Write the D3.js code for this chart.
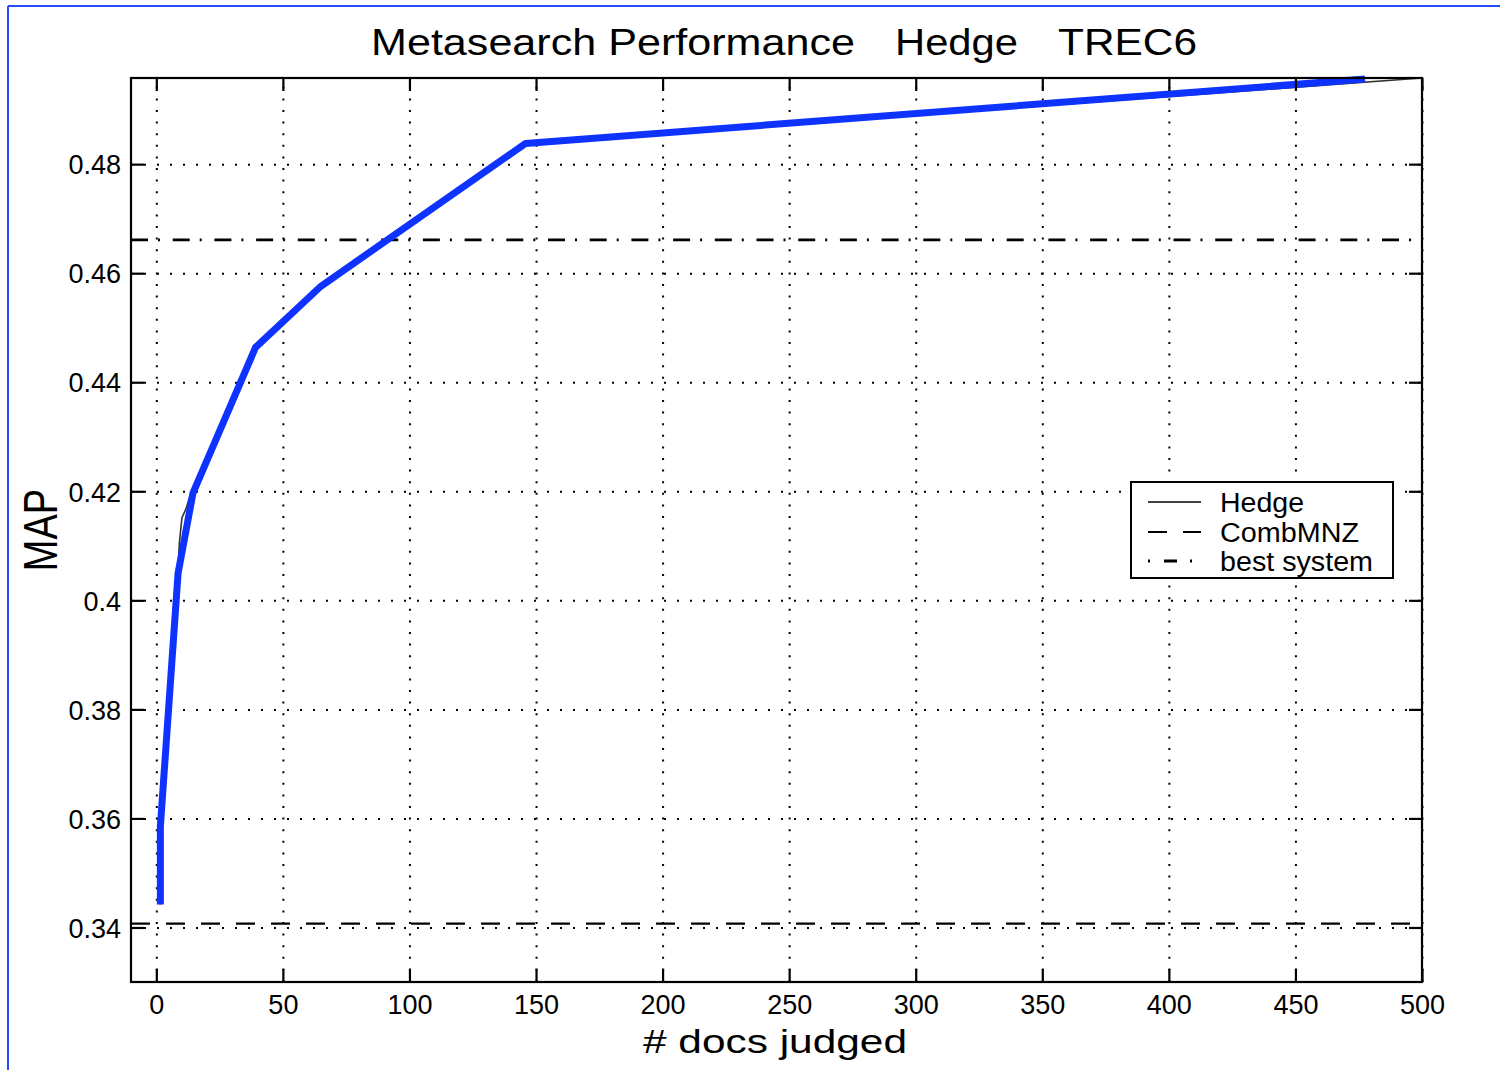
<!DOCTYPE html>
<html>
<head>
<meta charset="utf-8">
<script src="https://cdn.jsdelivr.net/npm/d3@7"></script>
<style>
  html, body { margin: 0; padding: 0; background: #fff; }
  svg { display: block; }
  text { font-family: "Liberation Sans", Arial, sans-serif; fill: #000; }
</style>
</head>
<body>
<svg id="chart" width="1500" height="1070"></svg>
<script>
// ---------- data ----------
const xTickValues = [0, 50, 100, 150, 200, 250, 300, 350, 400, 450, 500];
const yTickValues = [0.34, 0.36, 0.38, 0.40, 0.42, 0.44, 0.46, 0.48];
const yTickLabels = ["0.34", "0.36", "0.38", "0.4", "0.42", "0.44", "0.46", "0.48"];

// Hedge (thin black line)
const hedgeDocs = [1.6, 1.6, 8.6, 9.1, 10.1, 11.8, 13.4, 39.2, 65, 145.9, 500];
const hedgeMAP  = [0.3442, 0.3585, 0.405, 0.4105, 0.4151, 0.4169, 0.4193, 0.4464, 0.4576, 0.4838, 0.4958];

// highlighted Hedge curve (thick blue overlay)
const blueDocs = [1.6, 1.6, 8.6, 14.5, 39.2, 65, 145.9, 477.5];
const blueMAP  = [0.3442, 0.3585, 0.405, 0.4197, 0.4464, 0.4576, 0.4838, 0.4956];

const combMNZ = 0.3407;     // CombMNZ (dashed)
const bestSystem = 0.4661;  // best system (dash-dot)

const legendLabels = ["Hedge", "CombMNZ", "best system"];

// ---------- layout ----------
const svg = d3.select("#chart");
const L = 131, R = 1422, T = 78, B = 982;

const x = d3.scaleLinear().domain([-10, 500]).range([L, R]);
const y = d3.scaleLinear().domain([0.33, 0.4958]).range([B, T]);

// page frame (blue)
svg.append("line").attr("x1", 8).attr("y1", 6).attr("x2", 8).attr("y2", 1070)
  .attr("stroke", "#2a4cff").attr("stroke-width", 2);
svg.append("line").attr("x1", 8).attr("y1", 6).attr("x2", 1500).attr("y2", 6)
  .attr("stroke", "#2a4cff").attr("stroke-width", 2);

// ---------- grid ----------
const gridX = svg.append("g").attr("transform", `translate(0,${B})`)
  .call(d3.axisBottom(x).tickValues(xTickValues).tickSize(-(B - T)).tickFormat(""));
gridX.select(".domain").remove();
gridX.selectAll("line").attr("stroke", "#000").attr("stroke-width", 2)
  .attr("stroke-dasharray", "2,9.6");

const gridY = svg.append("g").attr("transform", `translate(${L},0)`)
  .call(d3.axisLeft(y).tickValues(yTickValues).tickSize(-(R - L)).tickFormat(""));
gridY.select(".domain").remove();
gridY.selectAll("line").attr("stroke", "#000").attr("stroke-width", 2)
  .attr("stroke-dasharray", "2,11");

// ---------- reference lines ----------
svg.append("line").attr("x1", L).attr("x2", R)
  .attr("y1", y(combMNZ)).attr("y2", y(combMNZ))
  .attr("stroke", "#000").attr("stroke-width", 2.2).attr("stroke-dasharray", "19,16");

svg.append("line").attr("x1", L).attr("x2", R)
  .attr("y1", y(bestSystem)).attr("y2", y(bestSystem))
  .attr("stroke", "#000").attr("stroke-width", 2.8).attr("stroke-dasharray", "17,10,2,12.7");

// ---------- curves ----------
const lineGen = d3.line().x(d => x(d[0])).y(d => y(d[1]));

svg.append("path")
  .datum(hedgeDocs.map((d, i) => [d, hedgeMAP[i]]))
  .attr("d", lineGen)
  .attr("fill", "none").attr("stroke", "#333").attr("stroke-width", 1.6);

svg.append("path")
  .datum(blueDocs.map((d, i) => [d, blueMAP[i]]))
  .attr("d", lineGen)
  .attr("fill", "none").attr("stroke", "#0f33ff").attr("stroke-width", 7)
  .attr("stroke-linejoin", "round").attr("stroke-linecap", "butt");

// ---------- axes (inward ticks) ----------
const axB = svg.append("g").attr("transform", `translate(0,${B})`)
  .call(d3.axisBottom(x).tickValues(xTickValues).tickSizeInner(-13).tickSizeOuter(0).tickPadding(14)
    .tickFormat(d3.format("d")));
const axT = svg.append("g").attr("transform", `translate(0,${T})`)
  .call(d3.axisTop(x).tickValues(xTickValues).tickSizeInner(-13).tickSizeOuter(0).tickFormat(""));
const axL = svg.append("g").attr("transform", `translate(${L},0)`)
  .call(d3.axisLeft(y).tickValues(yTickValues).tickSizeInner(-13).tickSizeOuter(0).tickPadding(10)
    .tickFormat((d, i) => yTickLabels[i]));
const axR = svg.append("g").attr("transform", `translate(${R},0)`)
  .call(d3.axisRight(y).tickValues(yTickValues).tickSizeInner(-13).tickSizeOuter(0).tickFormat(""));

[axB, axT, axL, axR].forEach(g => {
  g.select(".domain").remove();
  g.selectAll("line").attr("stroke", "#000").attr("stroke-width", 2.2);
  g.selectAll("text").attr("font-size", 27).attr("font-family", "Liberation Sans, Arial, sans-serif")
    .attr("fill", "#000");
});
axB.selectAll("text").attr("dy", null).attr("y", 32);
axL.selectAll("text").attr("dy", "0.36em");

// frame
svg.append("rect").attr("x", L).attr("y", T).attr("width", R - L).attr("height", B - T)
  .attr("fill", "none").attr("stroke", "#000").attr("stroke-width", 2.2);

// ---------- titles ----------
const titleParts = [
  { t: "Metasearch Performance", x0: 371, w: 484 },
  { t: "Hedge", x0: 895, w: 123 },
  { t: "TREC6", x0: 1058, w: 139 }
];
titleParts.forEach(p => {
  svg.append("text").attr("x", p.x0).attr("y", 55).attr("font-size", 37)
    .attr("textLength", p.w).attr("lengthAdjust", "spacingAndGlyphs").text(p.t);
});

svg.append("text").attr("x", 643).attr("y", 1053).attr("font-size", 34)
  .attr("textLength", 264).attr("lengthAdjust", "spacingAndGlyphs").text("# docs judged");

svg.append("text")
  .attr("transform", "translate(40,530) scale(1.25,1) rotate(-90)")
  .attr("text-anchor", "middle").attr("dy", "0.36em").attr("font-size", 38)
  .text("MAP");

// ---------- legend ----------
const lg = svg.append("g");
lg.append("rect").attr("x", 1131).attr("y", 482).attr("width", 262).attr("height", 96)
  .attr("fill", "#fff").attr("stroke", "#000").attr("stroke-width", 2);
const rowY = [502, 532, 561];
const dashes = [null, "19,16", "2,14,13,13,2,60"];
const lineEnd = [1201, 1201, 1192];
const widths = [84, 139, 153];
legendLabels.forEach((lab, i) => {
  lg.append("line").attr("x1", 1148).attr("x2", lineEnd[i]).attr("y1", rowY[i]).attr("y2", rowY[i])
    .attr("stroke", "#000").attr("stroke-width", i === 0 ? 1.6 : (i === 2 ? 2.8 : 2.2))
    .attr("stroke-dasharray", dashes[i]);
  lg.append("text").attr("x", 1220).attr("y", rowY[i]).attr("dy", "0.36em")
    .attr("font-size", 27).attr("textLength", widths[i]).attr("lengthAdjust", "spacingAndGlyphs")
    .text(lab);
});
</script>
</body>
</html>
